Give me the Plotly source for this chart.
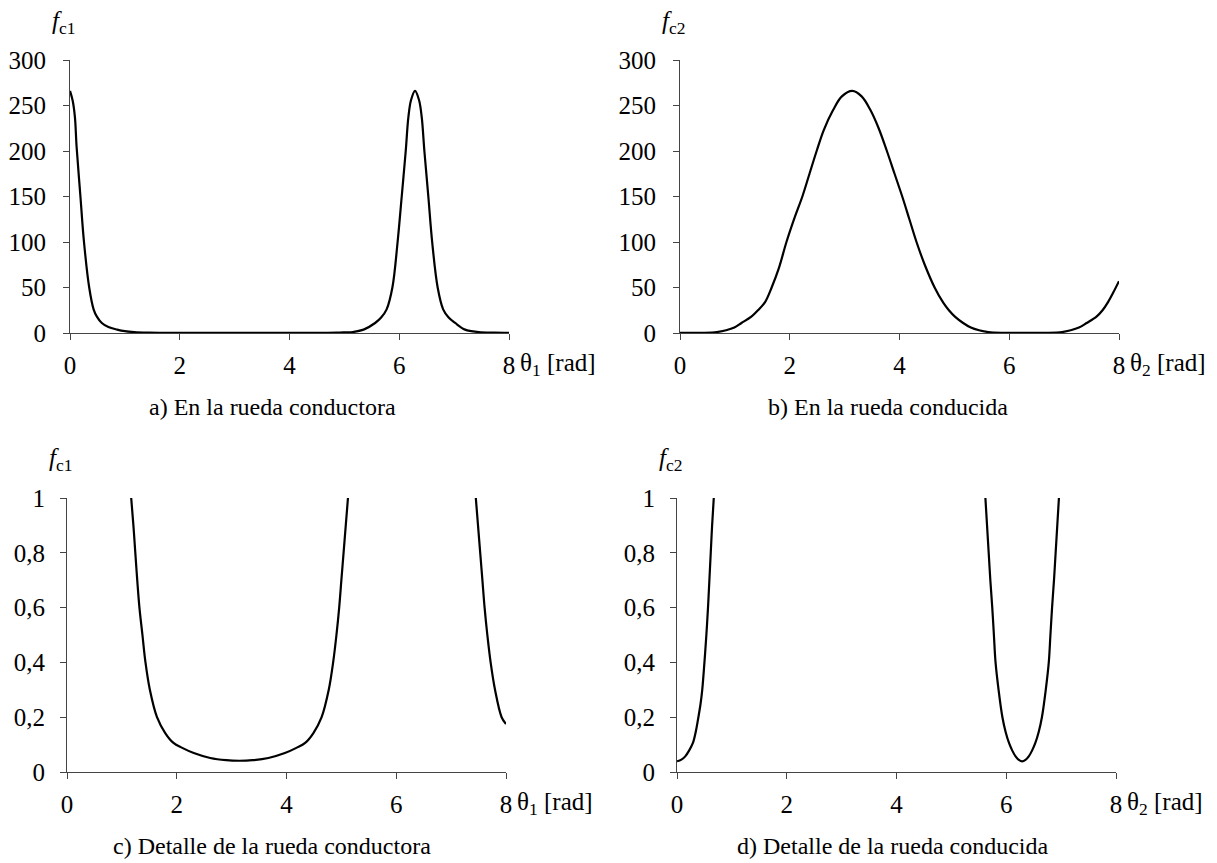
import plotly.graph_objects as go

W, H = 1217, 863

# ---- data ----
theta1_a = [0.00, 0.05, 0.09, 0.12, 0.19, 0.255, 0.35, 0.43, 0.49, 0.58, 0.70, 0.86, 1.00,
            1.17, 1.43, 1.64, 1.94, 2.31, 2.70, 3.14, 3.58, 3.95, 4.31, 4.62, 4.86, 5.03,
            5.15, 5.35, 5.56, 5.67, 5.77, 5.875, 5.97, 6.045, 6.118, 6.166, 6.215, 6.288,
            6.36, 6.41, 6.458, 6.53, 6.60, 6.70, 6.80, 6.90, 7.02, 7.20, 7.45, 7.73, 8.00]
fc1_a = [266, 255, 237, 205, 150, 100, 50, 26, 18, 11, 6.5, 3.7, 2.0,
         1.0, 0.4, 0.2, 0.106, 0.069, 0.05, 0.041, 0.05, 0.069, 0.106, 0.2, 0.4, 0.75,
         1.0, 3.7, 11, 17, 26, 50, 100, 150, 200, 237, 256, 266,
         256, 237, 200, 150, 100, 50, 26, 17, 11, 3.7, 1.0, 0.4, 0.175]

theta2_b = [0.00, 0.39, 0.67, 0.84, 0.99, 1.12, 1.30, 1.42, 1.55, 1.67, 1.80, 1.94, 2.09,
            2.23, 2.36, 2.49, 2.62, 2.79, 2.95, 3.14, 3.31, 3.47, 3.62, 3.77, 3.91, 4.05,
            4.18, 4.31, 4.46, 4.64, 4.80, 4.90, 5.01, 5.16, 5.30, 5.45, 5.62, 5.92, 6.29,
            6.64, 6.96, 7.12, 7.27, 7.41, 7.59, 7.70, 7.80, 7.90, 8.00]
fc2_b = [0.04, 0.2, 1.0, 3.0, 6.0, 11, 18, 25, 34, 50, 71, 100, 127,
         150, 175, 200, 223, 245, 260, 266, 260, 245, 225, 200, 175, 150,
         125, 100, 75, 50, 33, 25, 18, 11, 6.0, 3.0, 1.0, 0.2, 0.04,
         0.2, 1.0, 3.0, 6.0, 11, 18, 25, 34, 45, 57]

theta1_c = [1.17, 1.21, 1.245, 1.28, 1.32, 1.375, 1.43, 1.51, 1.64, 1.79, 1.94, 2.10, 2.31,
            2.61, 2.90, 3.14, 3.38, 3.67, 3.97, 4.18, 4.34, 4.49, 4.64, 4.77, 4.85, 4.91,
            4.96, 5.00, 5.04, 5.08, 5.12, None,
            7.45, 7.49, 7.53, 7.57, 7.61, 7.66, 7.72, 7.80, 7.92, 8.00]
fc1_c = [1.0, 0.9, 0.8, 0.7, 0.6, 0.5, 0.4, 0.3, 0.2, 0.142, 0.106, 0.088, 0.069,
         0.051, 0.043, 0.041, 0.043, 0.051, 0.069, 0.088, 0.106, 0.142, 0.2, 0.3, 0.4, 0.5,
         0.6, 0.7, 0.8, 0.9, 1.0, None,
         1.0, 0.9, 0.8, 0.7, 0.6, 0.5, 0.4, 0.3, 0.2, 0.175]

theta2_d = [0.00, 0.08, 0.15, 0.22, 0.29, 0.34, 0.39, 0.43, 0.46, 0.50, 0.535, 0.565, 0.59,
            0.615, 0.64, 0.67, None,
            5.62, 5.65, 5.68, 5.71, 5.745, 5.775, 5.805, 5.86, 5.93, 5.99, 6.05, 6.11, 6.17,
            6.23, 6.29, 6.35, 6.41, 6.47, 6.53, 6.59, 6.65, 6.72, 6.775, 6.805, 6.835, 6.87,
            6.90, 6.93, 6.96]
fc2_d = [0.039, 0.045, 0.057, 0.078, 0.106, 0.145, 0.2, 0.25, 0.3, 0.4, 0.5, 0.6, 0.7,
         0.8, 0.9, 1.0, None,
         1.0, 0.9, 0.8, 0.7, 0.6, 0.5, 0.4, 0.3, 0.2, 0.145, 0.106, 0.078, 0.057,
         0.044, 0.039, 0.044, 0.057, 0.078, 0.106, 0.145, 0.2, 0.3, 0.4, 0.5, 0.6, 0.7,
         0.8, 0.9, 1.0]

x_ticks = [0, 2, 4, 6, 8]
x_tick_text = ["0", "2", "4", "6", "8"]
y_ticks_top = [0, 50, 100, 150, 200, 250, 300]
y_tick_text_top = ["0", "50", "100", "150", "200", "250", "300"]
y_ticks_bot = [0, 0.2, 0.4, 0.6, 0.8, 1]
y_tick_text_bot = ["0", "0,2", "0,4", "0,6", "0,8", "1"]

captions = ["a) En la rueda conductora", "b) En la rueda conducida",
            "c) Detalle de la rueda conductora", "d) Detalle de la rueda conducida"]
y_titles = ["<i>f</i><sub>c1</sub>", "<i>f</i><sub>c2</sub>",
            "<i>f</i><sub>c1</sub>", "<i>f</i><sub>c2</sub>"]
x_titles = ["θ<sub>1</sub> [rad]", "θ<sub>2</sub> [rad]",
            "θ<sub>1</sub> [rad]", "θ<sub>2</sub> [rad]"]

FONT = "Liberation Serif, serif"

# panel pixel boxes: (left, right, top, bottom)
boxes = [(70, 509, 60, 333), (680, 1119, 60, 333),
         (67, 506, 498, 772), (677, 1116, 498, 772)]
caption_cx = [272, 888, 272, 893]

fig = go.Figure()
series = [(theta1_a, fc1_a), (theta2_b, fc2_b), (theta1_c, fc1_c), (theta2_d, fc2_d)]
for i, (xs, ys) in enumerate(series):
    n = "" if i == 0 else str(i + 1)
    fig.add_trace(go.Scatter(x=xs, y=ys, mode="lines", xaxis="x" + n, yaxis="y" + n,
                             line=dict(color="black", width=2.2, shape="spline", smoothing=1.0),
                             connectgaps=False, hoverinfo="skip", showlegend=False))

layout = dict(width=W, height=H, margin=dict(l=0, r=0, t=0, b=0),
              paper_bgcolor="white", plot_bgcolor="white",
              font=dict(family=FONT, size=24, color="black"), template="none")

annotations = []
for i, (l, r, t, b) in enumerate(boxes):
    n = "" if i == 0 else str(i + 1)
    top = i < 2
    layout["xaxis" + n] = dict(
        domain=[l / W, r / W], anchor="y" + n, range=[0, 8], tickvals=x_ticks,
        ticktext=x_tick_text, ticks="outside", ticklen=6, tickcolor="#444", tickwidth=1,
        showline=True, linecolor="#444", linewidth=1, showgrid=False, zeroline=False,
        automargin=False, ticklabelstandoff=4, fixedrange=True,
        tickfont=dict(family=FONT, size=25, color="black"))
    layout["yaxis" + n] = dict(
        domain=[1 - b / H, 1 - t / H], anchor="x" + n,
        range=[0, 300] if top else [0, 1],
        tickvals=y_ticks_top if top else y_ticks_bot,
        ticktext=y_tick_text_top if top else y_tick_text_bot,
        ticks="outside", ticklen=6, tickcolor="#444", tickwidth=1,
        showline=True, linecolor="#444", linewidth=1, showgrid=False, zeroline=False,
        automargin=False, ticklabelstandoff=12 if top else 10, fixedrange=True,
        tickfont=dict(family=FONT, size=25, color="black"))
    # y title
    annotations.append(dict(text=y_titles[i], x=(l - 7) / W, y=1 - (t - 38) / H,
                            xref="paper", yref="paper", xanchor="center", yanchor="middle",
                            showarrow=False, font=dict(family=FONT, size=25, color="black")))
    # x title
    annotations.append(dict(text=x_titles[i], x=(r + 9) / W, y=1 - (b + 31) / H,
                            xref="paper", yref="paper", xanchor="left", yanchor="middle",
                            showarrow=False, font=dict(family=FONT, size=25, color="black")))
    # caption
    annotations.append(dict(text=captions[i], x=caption_cx[i] / W, y=1 - (b + 74) / H,
                            xref="paper", yref="paper", xanchor="center", yanchor="middle",
                            showarrow=False, font=dict(family=FONT, size=24, color="black")))

layout["annotations"] = annotations
fig.update_layout(**layout)
fig.write_html("out.html")
